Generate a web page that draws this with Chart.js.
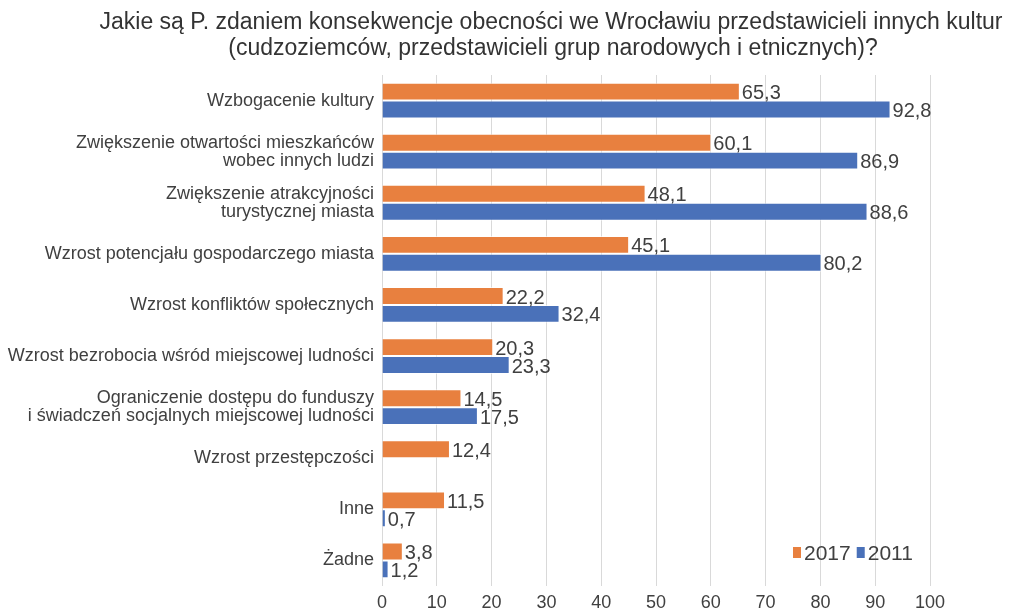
<!DOCTYPE html>
<html><head><meta charset="utf-8">
<script src="https://cdn.jsdelivr.net/npm/chart.js@4/dist/chart.umd.min.js"></script>
<style>html,body{margin:0;padding:0;background:#fff}#wrap{width:1011px;height:611px}</style>
</head><body><div id="wrap"><canvas id="c" width="1011" height="611"></canvas></div>
<script>
const titleLines = ["Jakie są P. zdaniem konsekwencje obecności we Wrocławiu przedstawicieli innych kultur","(cudzoziemców, przedstawicieli grup narodowych i etnicznych)?"];
const categories = [
  "Wzbogacenie kultury",
  ["Zwiększenie otwartości mieszkańców","wobec innych ludzi"],
  ["Zwiększenie atrakcyjności","turystycznej miasta"],
  "Wzrost potencjału gospodarczego miasta",
  "Wzrost konfliktów społecznych",
  "Wzrost bezrobocia wśród miejscowej ludności",
  ["Ograniczenie dostępu do funduszy","i świadczeń socjalnych miejscowej ludności"],
  "Wzrost przestępczości",
  "Inne",
  "Żadne"
];
const seriesNames = ["2017","2011"];
const values2017 = [65.3, 60.1, 48.1, 45.1, 22.2, 20.3, 14.5, 12.4, 11.5, 3.8];
const values2011 = [92.8, 86.9, 88.6, 80.2, 32.4, 23.3, 17.5, null, 0.7, 1.2];
const xTicks = [0,10,20,30,40,50,60,70,80,90,100];
const colors = ["#E8803F","#4A71B9"];
const textColor = "#404040";

const fmt = v => v.toFixed(1).replace('.', ',');

const overlay = {
  id: 'overlay',
  afterDatasetsDraw(chart) {
    const ctx = chart.ctx;
    ctx.save();
    ctx.fillStyle = textColor;
    ctx.font = '20px "Liberation Sans", Arial, sans-serif';
    ctx.textAlign = 'left';
    ctx.textBaseline = 'middle';
    chart.data.datasets.forEach((ds, di) => {
      const meta = chart.getDatasetMeta(di);
      meta.data.forEach((el, i) => {
        const v = ds.data[i];
        if (v === null || v === undefined) return;
        ctx.fillText(fmt(v), el.x + 2, el.y + 2);
      });
    });
    // legend
    ctx.font = '21px "Liberation Sans", Arial, sans-serif';
    let x = 793, y = 553;
    seriesNames.forEach((n, i) => {
      ctx.fillStyle = colors[i];
      ctx.fillRect(x, y - 6, 8, 11);
      ctx.fillStyle = textColor;
      ctx.fillText(n, x + 11, y + 1);
      x += 11 + ctx.measureText(n).width + 6;
    });
    // title
    ctx.fillStyle = '#333333';
    ctx.textAlign = 'center';
    ctx.font = '23px "Liberation Sans", Arial, sans-serif';
    ctx.fillText(titleLines[0], 551, 23);
    ctx.fillText(titleLines[1], 553, 49);
    ctx.restore();
  }
};

new Chart(document.getElementById('c'), {
  type: 'bar',
  data: {
    labels: categories,
    datasets: [
      {label: seriesNames[0], data: values2017, backgroundColor: colors[0], borderColor: 'rgba(255,255,255,0.6)', borderWidth: 1, categoryPercentage: 0.7, barPercentage: 1.0},
      {label: seriesNames[1], data: values2011, backgroundColor: colors[1], borderColor: 'rgba(255,255,255,0.6)', borderWidth: 1, categoryPercentage: 0.7, barPercentage: 1.0}
    ]
  },
  options: {
    indexAxis: 'y',
    responsive: false,
    animation: false,
    layout: {padding: {top: 75, right: 81, left: 0, bottom: 0}},
    plugins: {legend: {display: false}, title: {display: false}, tooltip: {enabled: false}},
    scales: {
      x: {
        min: 0, max: 100,
        afterBuildTicks: s => { s.ticks = xTicks.map(v => ({value: v})); },
        afterFit: s => { s.height = 25; },
        grid: {color: '#D9D9D9', lineWidth: 1, drawTicks: false},
        border: {display: false},
        ticks: {color: textColor, font: {size: 18, family: '"Liberation Sans", Arial, sans-serif', lineHeight: 1.0}, padding: 8, maxRotation: 0, autoSkip: false}
      },
      y: {
        afterFit: s => { s.width = 382; },
        grid: {display: false, drawTicks: false},
        border: {display: false},
        ticks: {color: textColor, font: {size: 18, family: '"Liberation Sans", Arial, sans-serif', lineHeight: 1.0}, padding: 8, autoSkip: false}
      }
    }
  },
  plugins: [overlay]
});
</script>
</body></html>
